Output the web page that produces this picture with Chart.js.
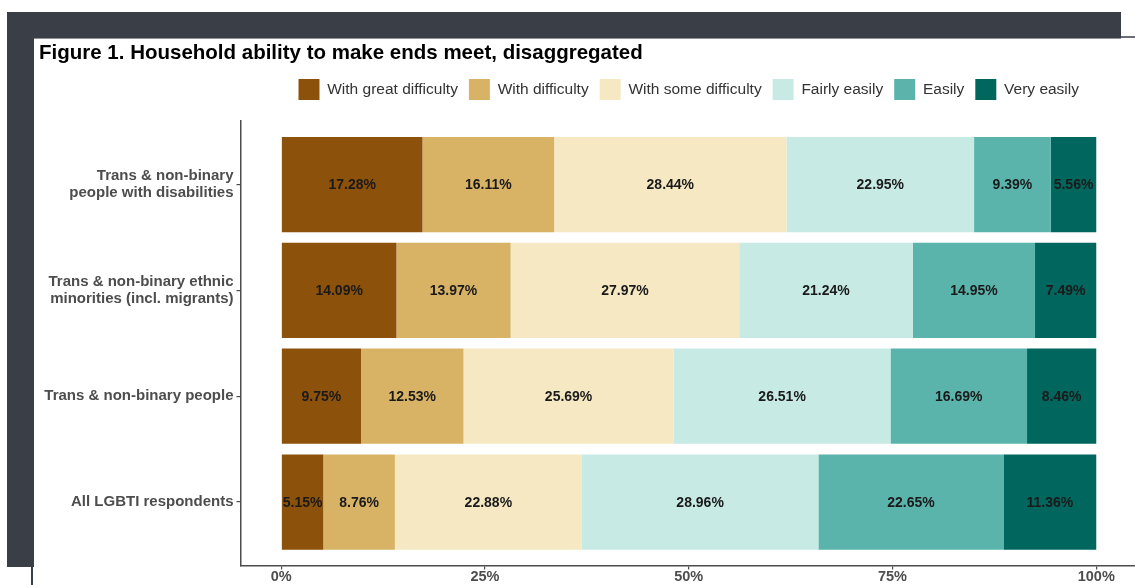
<!DOCTYPE html>
<html>
<head>
<meta charset="utf-8">
<title>Household ability to make ends meet</title>
<script src="https://cdn.jsdelivr.net/npm/chart.js@4.4.1/dist/chart.umd.min.js"></script>
<style>
  html, body { margin: 0; padding: 0; background: #fff; overflow: hidden; width: 1135px; height: 585px; }
  .frame { position: absolute; background: #3a3e46; }
  #wrap { position: absolute; left: 0; top: 39px; width: 1140px; height: 546px; }
</style>
</head>
<body>
<!-- dark slide frame round the figure -->
<div class="frame" style="left:7px;top:12px;width:1114px;height:26px;"></div>
<div class="frame" style="left:7px;top:12px;width:27px;height:555px;"></div>
<div class="frame" style="left:31px;top:567px;width:2px;height:18px;"></div>
<div style="position:absolute;left:34px;top:38px;width:1087px;height:1px;background:#8e9096;"></div>
<div style="position:absolute;left:1121px;top:36px;width:14px;height:2px;background:#6b6e74;"></div>

<div id="wrap"><canvas id="chart1" width="1140" height="546"></canvas></div>

<script>
const categories = [
    ["Trans & non-binary", "people with disabilities"],
    ["Trans & non-binary ethnic", "minorities (incl. migrants)"],
    "Trans & non-binary people",
    "All LGBTI respondents"
];
const seriesNames = ["With great difficulty", "With difficulty", "With some difficulty",
                     "Fairly easily", "Easily", "Very easily"];
const colours = ["#8c510a", "#d8b365", "#f6e8c3", "#c7eae5", "#5ab4ac", "#01665e"];

// percentages, one value per category (top to bottom)
const greatDifficulty = [17.28, 14.09, 9.75, 5.15];
const withDifficulty  = [16.11, 13.97, 12.53, 8.76];
const someDifficulty  = [28.44, 27.97, 25.69, 22.88];
const fairlyEasily    = [22.95, 21.24, 26.51, 28.96];
const easily          = [9.39, 14.95, 16.69, 22.65];
const veryEasily      = [5.56, 7.49, 8.46, 11.36];
const xTicks = [0, 25, 50, 75, 100];

const series = [greatDifficulty, withDifficulty, someDifficulty, fairlyEasily, easily, veryEasily];

// bars are filled to 100% like ggplot's position_fill
const rowTotals = categories.map(function(c, i) {
    return series.reduce(function(s, arr) { return s + arr[i]; }, 0);
});

const FONT = "'Liberation Sans', Arial, Helvetica, sans-serif";
Chart.defaults.font.family = FONT;

const datasets = series.map(function(arr, k) {
    return {
	label: seriesNames[k],
	data: arr.map(function(v, i) { return { x: v / rowTotals[i] * 100, y: i }; }),
	backgroundColor: colours[k],
	borderWidth: 0,
	barPercentage: 0.9,
	categoryPercentage: 1.0
    };
});

// writes the percentage in the middle of each segment
const barLabels = {
    id: "barLabels",
    afterDatasetsDraw: function(chart) {
	const ctx = chart.ctx;
	ctx.save();
	ctx.font = "bold 14px " + FONT;
	ctx.fillStyle = "#1a1a1a";
	ctx.textAlign = "center";
	ctx.textBaseline = "middle";
	chart.data.datasets.forEach(function(ds, k) {
	    chart.getDatasetMeta(k).data.forEach(function(bar, i) {
		const p = bar.getProps(["x", "y", "base"], true);
		ctx.fillText(series[k][i].toFixed(2) + "%", (p.x + p.base) / 2, p.y + 1);
	    });
	});
	ctx.restore();
    }
};

new Chart(document.getElementById("chart1"), {
    type: "bar",
    data: { datasets: datasets },
    plugins: [barLabels],
    options: {
	indexAxis: "y",
	responsive: false,
	animation: false,
	layout: { padding: { left: 39, right: 3, top: 0, bottom: 0 } },
	scales: {
	    x: {
		type: "linear",
		stacked: true,
		min: -5,
		max: 105,
		afterBuildTicks: function(scale) {
		    scale.ticks = xTicks.map(function(v) { return { value: v }; });
		},
		afterFit: function(scale) { scale.height = 19.5; },
		ticks: {
		    callback: function(v) { return v + "%"; },
		    color: "#4d4d4d",
		    padding: 0,
		    font: { size: 14.5, weight: "bold", lineHeight: 1.1 }
		},
		grid: { drawOnChartArea: false, drawTicks: true, tickLength: 4, color: "#4d4d4d", lineWidth: 1.2 },
		border: { display: true, color: "#4d4d4d", width: 1.5 }
	    },
	    y: {
		type: "linear",
		stacked: true,
		reverse: true,
		offset: false,
		min: -0.6,
		max: 3.6,
		afterBuildTicks: function(scale) {
		    scale.ticks = categories.map(function(c, i) { return { value: i }; });
		},
		afterFit: function(scale) { scale.width = 201.5; },
		ticks: {
		    callback: function(v, i) { return categories[i]; },
		    color: "#4d4d4d",
		    padding: 3,
		    font: { size: 15, weight: "bold", lineHeight: 1.1 }
		},
		grid: { offset: false, drawOnChartArea: false, drawTicks: true, tickLength: 4, color: "#4d4d4d", lineWidth: 1.2 },
		border: { display: true, color: "#4d4d4d", width: 1.5 }
	    }
	},
	plugins: {
	    title: {
		display: true,
		text: "Figure 1. Household ability to make ends meet, disaggregated",
		align: "start",
		color: "#000",
		padding: { top: 2, bottom: 2.3 },
		font: { size: 20.5, weight: "bold" }
	    },
	    // empty spacer between legend and plot
	    subtitle: {
		display: true,
		text: "",
		weight: 100,
		padding: 0,
		font: { size: 10, lineHeight: 1.12 }
	    },
	    legend: {
		position: "top",
		align: "center",
		fullSize: false,
		labels: {
		    boxWidth: 21,
		    boxHeight: 21,
		    padding: 11,
		    color: "#333",
		    font: { size: 15.5 }
		}
	    },
	    tooltip: { enabled: false }
	}
    }
});
</script>
</body>
</html>
